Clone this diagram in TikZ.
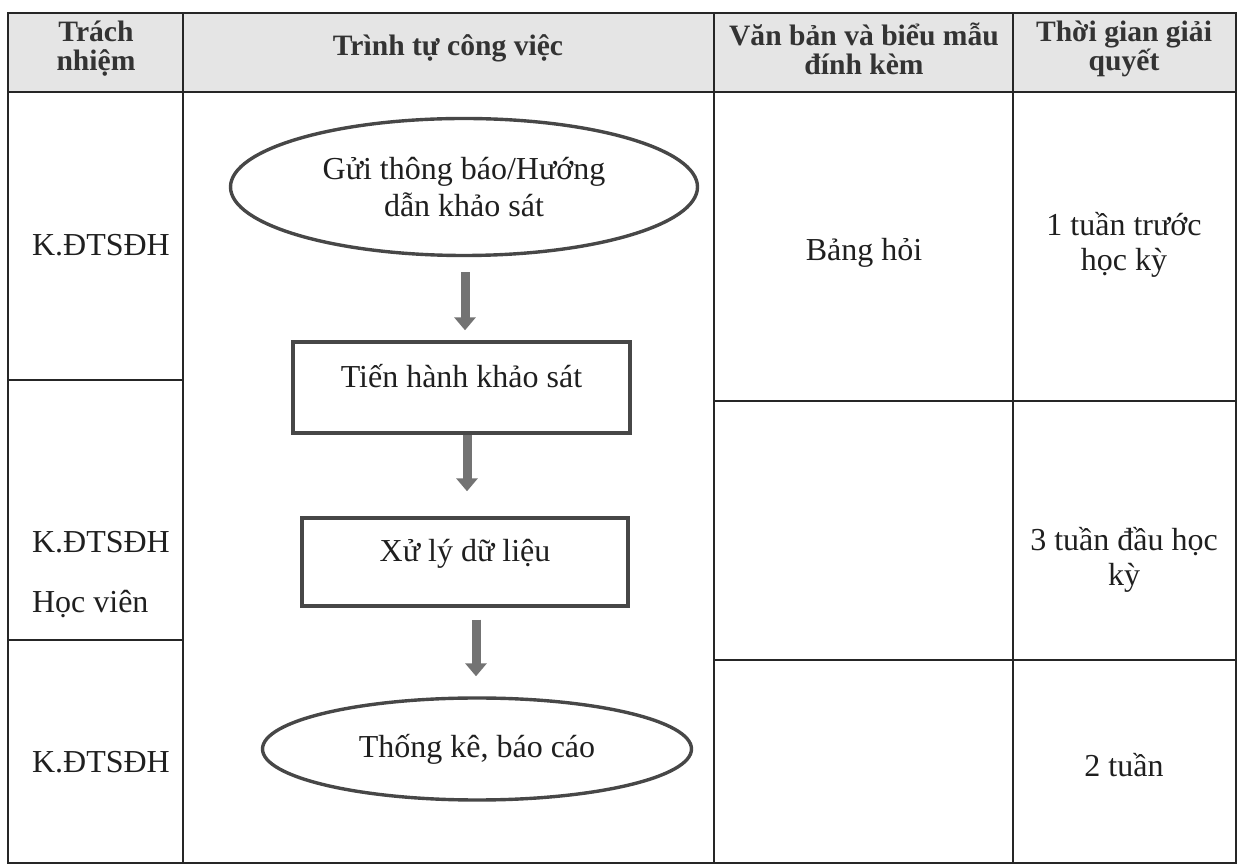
\documentclass[tikz,border=0pt]{standalone}
\usepackage{fontspec}
\setmainfont{Liberation Serif}
\usetikzlibrary{shapes.geometric,arrows.meta}
\begin{document}
\begin{tikzpicture}[x=0.5pt,y=-0.5pt,
  grid/.style={line width=0.8pt, draw=black!85},
  hdr/.style={font=\bfseries\fontsize{14.8}{14.5}\selectfont, align=center, text=black!80},
  body/.style={font=\fontsize{16}{17.5}\selectfont, align=center, text=black!88},
  termnode/.style={ellipse, draw=black!72, line width=1.7pt, inner sep=0pt, body},
  procnode/.style={rectangle, draw=black!72, line width=1.7pt, inner sep=0pt, body, text height=11pt, text depth=11pt},
  flowarrow/.style={draw=black!55, line width=4.5pt, -{Triangle[width=10.5pt,length=6.5pt]}},
]
\useasboundingbox (0,0) rectangle (1243,865);
% header background
\fill[black!10] (8,13) rectangle (1236,92);
% table grid
\draw[grid] (8,13) rectangle (1236,863);
\draw[grid] (8,92) -- (1236,92);
\draw[grid] (183,13) -- (183,863);
\draw[grid] (714,13) -- (714,863);
\draw[grid] (1013,13) -- (1013,863);
\draw[grid] (8,380) -- (183,380);
\draw[grid] (8,640) -- (183,640);
\draw[grid] (714,401) -- (1236,401);
\draw[grid] (714,660) -- (1236,660);
% header
\node[hdr] (h1) at (96,49) {Trách\\nhiệm};
\node[hdr] (h2) at (448,48) {Trình tự công việc};
\node[hdr] (h3) at (864,49) {Văn bản và biểu mẫu\\đính kèm};
\node[hdr] (h4) at (1124,49) {Thời gian giải\\quyết};
% column 1
\node[body, anchor=west] (r1) at (25,245) {K.ĐTSĐH};
\node[body, anchor=west, align=left] (r2) at (25,575) {K.ĐTSĐH\\[12.5pt]Học viên};
\node[body, anchor=west] (r3) at (25,762) {K.ĐTSĐH};
% column 3
\node[body] (d1) at (864,253) {Bảng hỏi};
% column 4
\node[body] (t1) at (1124,245) {1 tuần trước\\học kỳ};
\node[body] (t2) at (1124,560) {3 tuần đầu học\\kỳ};
\node[body] (t3) at (1124,765) {2 tuần};
% flow
\node[termnode, minimum width=233.5pt, minimum height=68.5pt, font=\fontsize{16}{18.5}\selectfont] (s1) at (464,187) {Gửi thông báo/Hướng\\dẫn khảo sát};
\node[procnode, minimum width=168.5pt, minimum height=45.5pt] (s2) at (461.5,387.5) {Tiến hành khảo sát};
\node[procnode, minimum width=163pt, minimum height=44pt] (s3) at (465,562) {Xử lý dữ liệu};
\node[termnode, minimum width=214.5pt, minimum height=51pt] (s4) at (477,749) {Thống kê, báo cáo};
\draw[flowarrow, shorten <=7.5pt, shorten >=5pt] ([xshift=0.5pt]s1.south) -- ([xshift=0.5pt]s1.south |- s2.north);
\draw[flowarrow, shorten <=0pt, shorten >=12.5pt] ([xshift=2.75pt]s2.south) -- ([xshift=2.75pt]s2.south |- s3.north);
\draw[flowarrow, shorten <=6pt, shorten >=10pt] ([xshift=5.5pt]s3.south) -- ([xshift=5.5pt]s3.south |- s4.north);
\end{tikzpicture}
\end{document}
